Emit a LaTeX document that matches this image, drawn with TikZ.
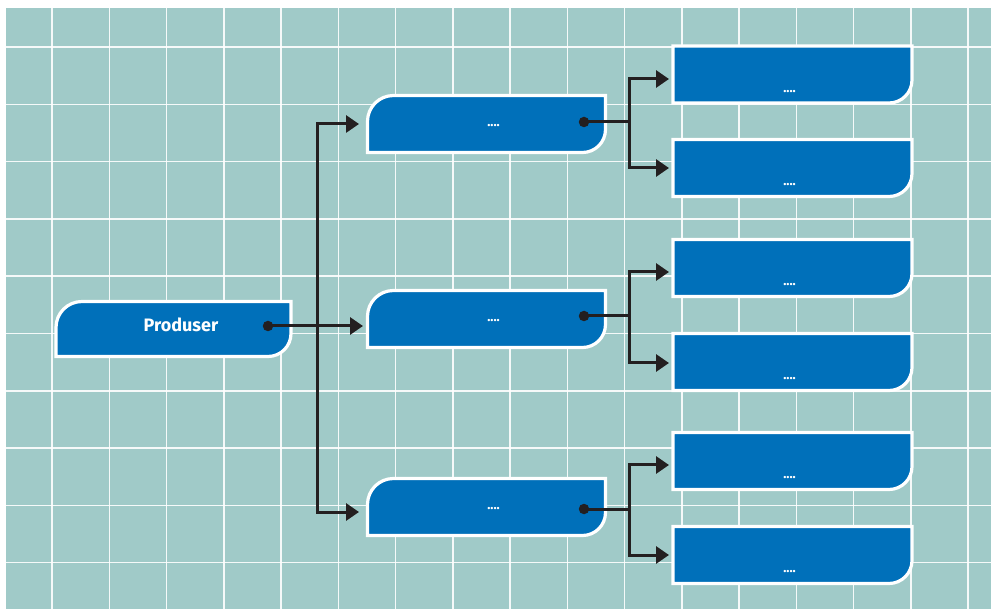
\documentclass[tikz,border=0pt]{standalone}
\usepackage{fontspec}
\setmainfont{Fira Sans}
\usetikzlibrary{arrows.meta,calc}
\definecolor{bg}{RGB}{160,202,200}
\definecolor{boxblue}{RGB}{0,112,186}
\definecolor{ink}{RGB}{35,31,32}
\newcommand\shapeTwo[1]{%
  \path[boxshape] (#1.south west) -- ($(#1.north west)+(0,26)$)
    .. controls ($(#1.north west)+(0,11.6)$) and ($(#1.north west)+(11.6,0)$) .. ($(#1.north west)+(26,0)$)
    -- (#1.north east) -- ($(#1.south east)+(0,-23)$)
    .. controls ($(#1.south east)+(0,-10.3)$) and ($(#1.south east)+(-10.3,0)$) .. ($(#1.south east)+(-23,0)$)
    -- cycle;}
\newcommand\shapeOne[1]{%
  \path[boxshape] (#1.south west) -- (#1.north west) -- (#1.north east) -- ($(#1.south east)+(0,-23)$)
    .. controls ($(#1.south east)+(0,-10.3)$) and ($(#1.south east)+(-10.3,0)$) .. ($(#1.south east)+(-23,0)$)
    -- cycle;}
\begin{document}
\begin{tikzpicture}[x=1pt,y=-1pt,
  boxnode/.style={inner sep=0pt,outer sep=0pt,draw=none},
  midbox/.style={boxnode,minimum width=238pt,minimum height=57pt},
  rightbox/.style={boxnode,minimum width=239pt,minimum height=57pt},
  boxshape/.style={fill=boxblue,draw=white,line width=3.2pt},
  txt/.style={inner sep=0pt,text=white,font=\bfseries\fontsize{18}{21}\selectfont},
  dots/.style={inner sep=0pt,text=white,font=\bfseries\fontsize{13}{14}\selectfont},
  conn/.style={draw=ink,line width=3pt},
  arr/.style={conn,-{Triangle[length=13pt,width=17pt]}},
  dotnode/.style={circle,fill=ink,inner sep=0pt,minimum size=10.5pt},
  gridline/.style={draw=white,opacity=0.9,line width=1.5pt}
]
\useasboundingbox (0,0) rectangle (991,609);
\fill[bg] (6,8) rectangle (991,609);
\foreach \i in {0,...,16} \draw[gridline] ({52+57.25*\i},8) -- ({52+57.25*\i},609);
\foreach \j in {0,...,9} \draw[gridline] (6,{47+57.3*\j}) -- (991,{47+57.3*\j});

% boxes
\node[boxnode,minimum width=235pt,minimum height=55pt] (p) at (173.5,329) {};
\node[midbox] (m1) at (486.5,124) {};
\node[midbox] (m2) at (486.5,319) {};
\node[midbox] (m3) at (486.5,507) {};
\node[rightbox] (r1) at (792.5,74.5) {};
\node[rightbox] (r2) at (792.5,168) {};
\node[rightbox] (r3) at (792.5,268) {};
\node[rightbox] (r4) at (792.5,362) {};
\node[rightbox] (r5) at (792.5,461) {};
\node[rightbox] (r6) at (792.5,555) {};

\shapeTwo{p}
\shapeTwo{m1}\shapeTwo{m2}\shapeTwo{m3}
\shapeOne{r1}\shapeOne{r2}\shapeOne{r3}\shapeOne{r4}\shapeOne{r5}\shapeOne{r6}

% texts
\node[txt] (pt) at ([xshift=7.5pt,yshift=4pt]p.center) {Produser};
\node[dots] (m1t) at ([xshift=7pt,yshift=-2pt]m1.center) {....};
\node[dots] (m2t) at ([xshift=7pt,yshift=-2pt]m2.center) {....};
\node[dots] (m3t) at ([xshift=7pt,yshift=-2pt]m3.center) {....};
\node[dots] (r1t) at ([xshift=-3pt,yshift=-17pt]r1.center) {....};
\node[dots] (r2t) at ([xshift=-3pt,yshift=-17pt]r2.center) {....};
\node[dots] (r3t) at ([xshift=-3pt,yshift=-17pt]r3.center) {....};
\node[dots] (r4t) at ([xshift=-3pt,yshift=-17pt]r4.center) {....};
\node[dots] (r5t) at ([xshift=-3pt,yshift=-17pt]r5.center) {....};
\node[dots] (r6t) at ([xshift=-3pt,yshift=-17pt]r6.center) {....};

% dots
\node[dotnode] (dp) at (268,326) {};
\node[dotnode] (d1) at (584,122) {};
\node[dotnode] (d2) at (584,316) {};
\node[dotnode] (d3) at (584,509) {};

% junctions
\coordinate (tp) at (317,326);
\coordinate (j1) at (629,122);
\coordinate (j2) at (629,316);
\coordinate (j3) at (629,509);

% connectors from Produser
\draw[arr,shorten >=4.5pt] (dp.center) -- (m2.west |- dp.center);
\draw[arr,shorten >=8.5pt] (tp) |- (m1.west);
\draw[arr,shorten >=8.5pt] (tp) |- ([yshift=-5pt]m3.west);

% branches
\draw[conn] (d1.center) -- (j1);
\draw[arr,shorten >=4pt] (j1) |- ([yshift=-4.5pt]r1.west);
\draw[arr,shorten >=4pt] (j1) |- (r2.west);
\draw[conn] (d2.center) -- (j2);
\draw[arr,shorten >=4pt] (j2) |- ([yshift=-4pt]r3.west);
\draw[arr,shorten >=4pt] (j2) |- ([yshift=-1pt]r4.west);
\draw[conn] (d3.center) -- (j3);
\draw[arr,shorten >=4pt] (j3) |- ([yshift=-4pt]r5.west);
\draw[arr,shorten >=4pt] (j3) |- (r6.west);
\end{tikzpicture}
\end{document}
